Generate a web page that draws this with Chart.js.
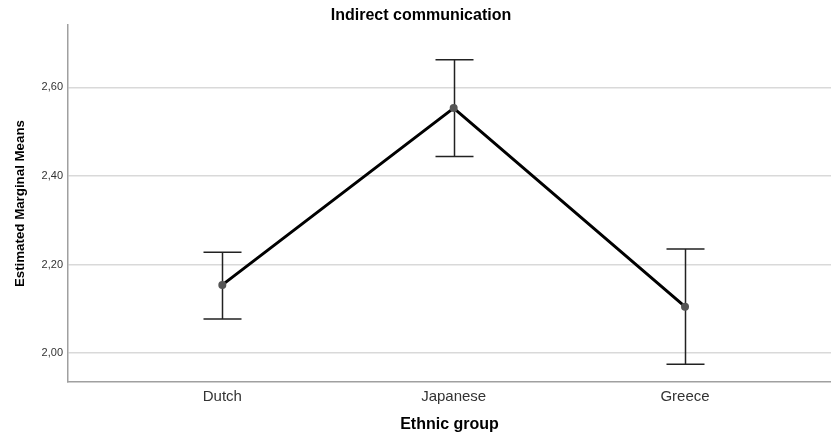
<!DOCTYPE html>
<html>
<head>
<meta charset="utf-8">
<script src="https://cdn.jsdelivr.net/npm/chart.js@4/dist/chart.umd.min.js"></script>
<style>
  html, body { margin: 0; padding: 0; background: #ffffff; }
  #wrap { width: 831px; height: 434px; }
</style>
</head>
<body>
<div id="wrap"><canvas id="c" width="831" height="434"></canvas></div>
<script>
// Estimated marginal means of indirect communication by ethnic group (95% CI)
const groups = ['Dutch', 'Japanese', 'Greece'];
const means = [2.154, 2.553, 2.105];
const ciLower = [2.077, 2.444, 1.975];
const ciUpper = [2.228, 2.662, 2.235];
const yTicks = [2.0, 2.2, 2.4, 2.6];

const FONT = "'Liberation Sans', Arial, sans-serif";

// Error bars with caps, drawn through the chart's own scales (under the line and markers)
const errorBars = {
  id: 'errorBars',
  beforeDatasetsDraw(chart) {
    const { ctx, scales: { x, y } } = chart;
    ctx.save();
    ctx.strokeStyle = '#222';
    ctx.lineWidth = 1.5;
    const cap = 19;
    groups.forEach((g, i) => {
      const px = Math.round(x.getPixelForValue(i)) + 0.5;
      const top = y.getPixelForValue(ciUpper[i]);
      const bot = y.getPixelForValue(ciLower[i]);
      ctx.beginPath();
      ctx.moveTo(px, top); ctx.lineTo(px, bot);
      ctx.moveTo(px - cap, top); ctx.lineTo(px + cap, top);
      ctx.moveTo(px - cap, bot); ctx.lineTo(px + cap, bot);
      ctx.stroke();
    });
    ctx.restore();
  }
};

new Chart(document.getElementById('c'), {
  type: 'line',
  data: {
    datasets: [{
      data: means.map((m, i) => ({ x: i, y: m })),
      borderColor: '#000',
      borderWidth: 3,
      pointRadius: 4,
      pointBackgroundColor: '#555',
      pointBorderColor: '#555',
      pointBorderWidth: 0,
      tension: 0
    }]
  },
  options: {
    responsive: false,
    animation: false,
    layout: { autoPadding: false, padding: { left: 11, right: 0, top: 0, bottom: 0 } },
    plugins: {
      legend: { display: false },
      tooltip: { enabled: false },
      title: {
        display: true,
        text: 'Indirect communication',
        color: '#000',
        font: { family: FONT, size: 16, weight: 'bold' },
        padding: { top: 6, bottom: 0 }
      }
    },
    scales: {
      x: {
        type: 'linear',
        min: -0.667,
        max: 2.631,
        afterBuildTicks(scale) { scale.ticks = groups.map((g, i) => ({ value: i })); },
        afterFit(scale) {
          scale.height = 52;
          scale.paddingLeft = 0;
          scale.paddingRight = 0;
        },
        ticks: {
          callback: (v) => groups[v],
          color: '#333',
          font: { family: FONT, size: 15 },
          padding: 6,
          maxRotation: 0
        },
        grid: { display: false, drawTicks: false },
        border: { display: true, color: '#a0a0a0', width: 1.5 },
        title: {
          display: true,
          text: 'Ethnic group',
          color: '#000',
          font: { family: FONT, size: 16, weight: 'bold' },
          padding: { top: 0, bottom: 0 }
        }
      },
      y: {
        min: 1.935,
        max: 2.74,
        afterBuildTicks(scale) { scale.ticks = yTicks.map(v => ({ value: v })); },
        afterFit(scale) { scale.width = 57; },
        ticks: {
          callback: (v) => v.toFixed(2).replace('.', ','),
          color: '#333',
          font: { family: FONT, size: 11 },
          padding: 5
        },
        grid: { color: '#d9d9d9', lineWidth: 1.5, drawTicks: false },
        border: { display: true, color: '#a0a0a0', width: 1.5 },
        title: {
          display: true,
          text: 'Estimated Marginal Means',
          color: '#000',
          font: { family: FONT, size: 13.3, weight: 'bold' },
          padding: { top: 1.5, bottom: 0 }
        }
      }
    }
  },
  plugins: [errorBars]
});
</script>
</body>
</html>
